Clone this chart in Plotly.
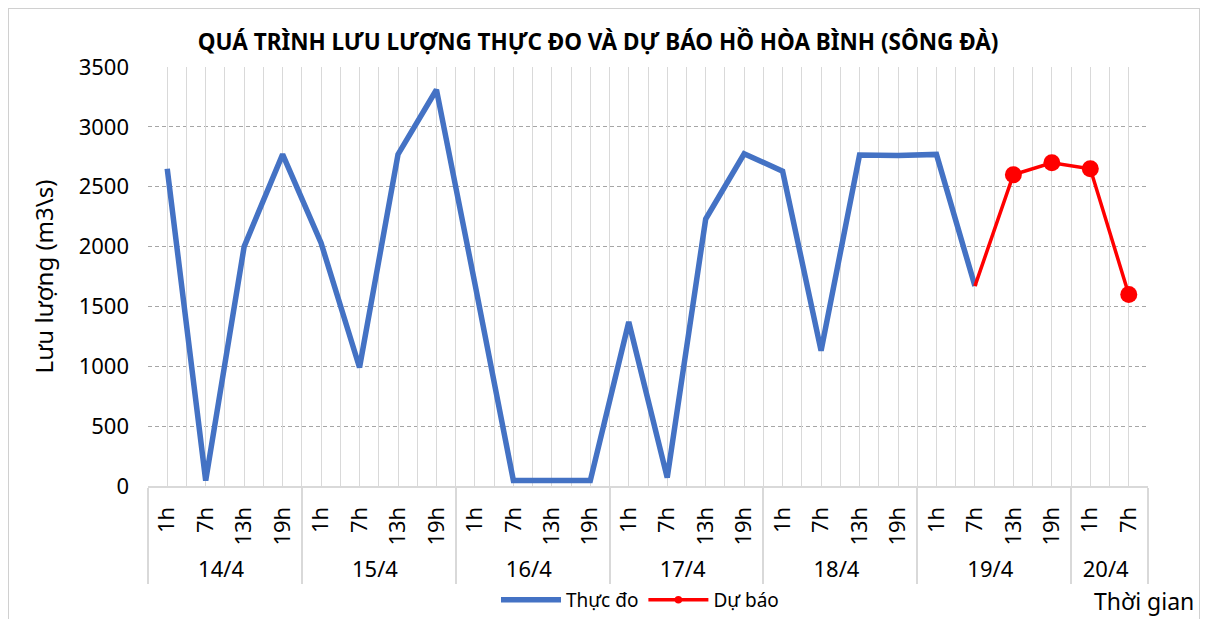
import plotly.graph_objects as go

# ---- data ----
dates = ["14/4"] * 4 + ["15/4"] * 4 + ["16/4"] * 4 + ["17/4"] * 4 + ["18/4"] * 4 + ["19/4"] * 4 + ["20/4"] * 2
hours = ["1h", "7h", "13h", "19h"] * 6 + ["1h", "7h"]

thuc_do = [2650, 45, 2000, 2770,
           2030, 990, 2770, 3310,
           1690, 45, 45, 45,
           1370, 70, 2230, 2775,
           2630, 1130, 2765, 2760,
           2770, 1670, None, None,
           None, None]

du_bao = [None] * 21 + [1670, 2600, 2700, 2650, 1600]

y_ticks = [0, 500, 1000, 1500, 2000, 2500, 3000, 3500]

FONT = "Noto Sans"
# page body has an 8px margin, so figure coords = screen coords - 8
W, H = 1200, 611
L, R, T, B = 140, 1140, 59, 478

fig = go.Figure()

fig.add_trace(go.Scatter(
    x=[dates, hours], y=thuc_do, mode="lines", name="Thực đo",
    line=dict(color="#4472C4", width=5.5),
))

# marker sizes: first real forecast point has no marker
sizes = [6] * len(du_bao)
sizes[21] = 0
for i in range(22, 26):
    sizes[i] = 17
fig.add_trace(go.Scatter(
    x=[dates, hours], y=du_bao, mode="lines+markers", name="Dự báo",
    line=dict(color="#FF0000", width=3.5),
    marker=dict(color="#FF0000", size=sizes, opacity=1, line=dict(width=0)),
))

# invisible trace to carry the half-category grid axis
n = len(hours)
fig.add_trace(go.Scatter(x=[-0.5, n - 0.5], y=[0, 0], xaxis="x2", mode="lines",
                         line=dict(width=0), showlegend=False, hoverinfo="skip"))

fig.update_layout(
    width=W, height=H,
    margin=dict(l=L, r=W - R, t=T, b=H - B, autoexpand=False),
    paper_bgcolor="white", plot_bgcolor="white",
    font=dict(family=FONT, color="#000000"),
    title=dict(text="<b>QUÁ TRÌNH LƯU LƯỢNG THỰC ĐO VÀ DỰ BÁO HỒ HÒA BÌNH (SÔNG ĐÀ)</b>",
               x=590 / W, xanchor="center", y=1 - 34 / H, yanchor="middle",
               font=dict(size=22.5, family=FONT, color="#000000")),
    xaxis=dict(
        type="multicategory", showgrid=False, tickangle=-90,
        tickfont=dict(size=22, family=FONT, color="#000000"),
        showline=True, linecolor="#d9d9d9", linewidth=2,
        showdividers=True, dividercolor="#d9d9d9", dividerwidth=2,
        ticks="", range=[-0.5, n - 0.5], ticklabelstandoff=10,
    ),
    xaxis2=dict(
        overlaying="x", range=[-0.5, n - 0.5], tick0=-0.5, dtick=0.5,
        showgrid=True, gridcolor="#d9d9d9", gridwidth=1,
        showticklabels=False, ticks="", zeroline=False, showline=False,
    ),
    yaxis=dict(
        range=[0, 3500], tickvals=y_ticks, showgrid=True, gridcolor="#a6a6a6",
        gridwidth=1, griddash="4px,3px", zeroline=False, showline=False,
        tickfont=dict(size=22, family=FONT, color="#000000"), ticks="",
        ticklabelstandoff=18,
        title=dict(text="Lưu lượng (m3\\s)", font=dict(size=24, family=FONT, color="#000000"),
                   standoff=18),
    ),
    legend=dict(orientation="h", x=632 / W, xanchor="center", xref="container",
                y=1 - 592 / H, yanchor="middle", yref="container",
                font=dict(size=19, family=FONT, color="#000000"),
                itemwidth=60, bgcolor="rgba(0,0,0,0)"),
    showlegend=True,
)

fig.add_annotation(text="Thời gian", xref="paper", yref="paper",
                   x=(1136 - L) / (R - L), y=(B - 593) / (B - T),
                   xanchor="center", yanchor="middle", showarrow=False,
                   font=dict(size=23, family=FONT, color="#000000"))

fig.add_shape(type="rect", xref="paper", yref="paper",
              x0=(0 - L) / (R - L), x1=(1192 - L) / (R - L),
              y0=(B - 630) / (B - T), y1=(B - 0) / (B - T),
              line=dict(color="#d0d0d0", width=2), fillcolor="rgba(0,0,0,0)", layer="below")

fig.write_html("out.html")
